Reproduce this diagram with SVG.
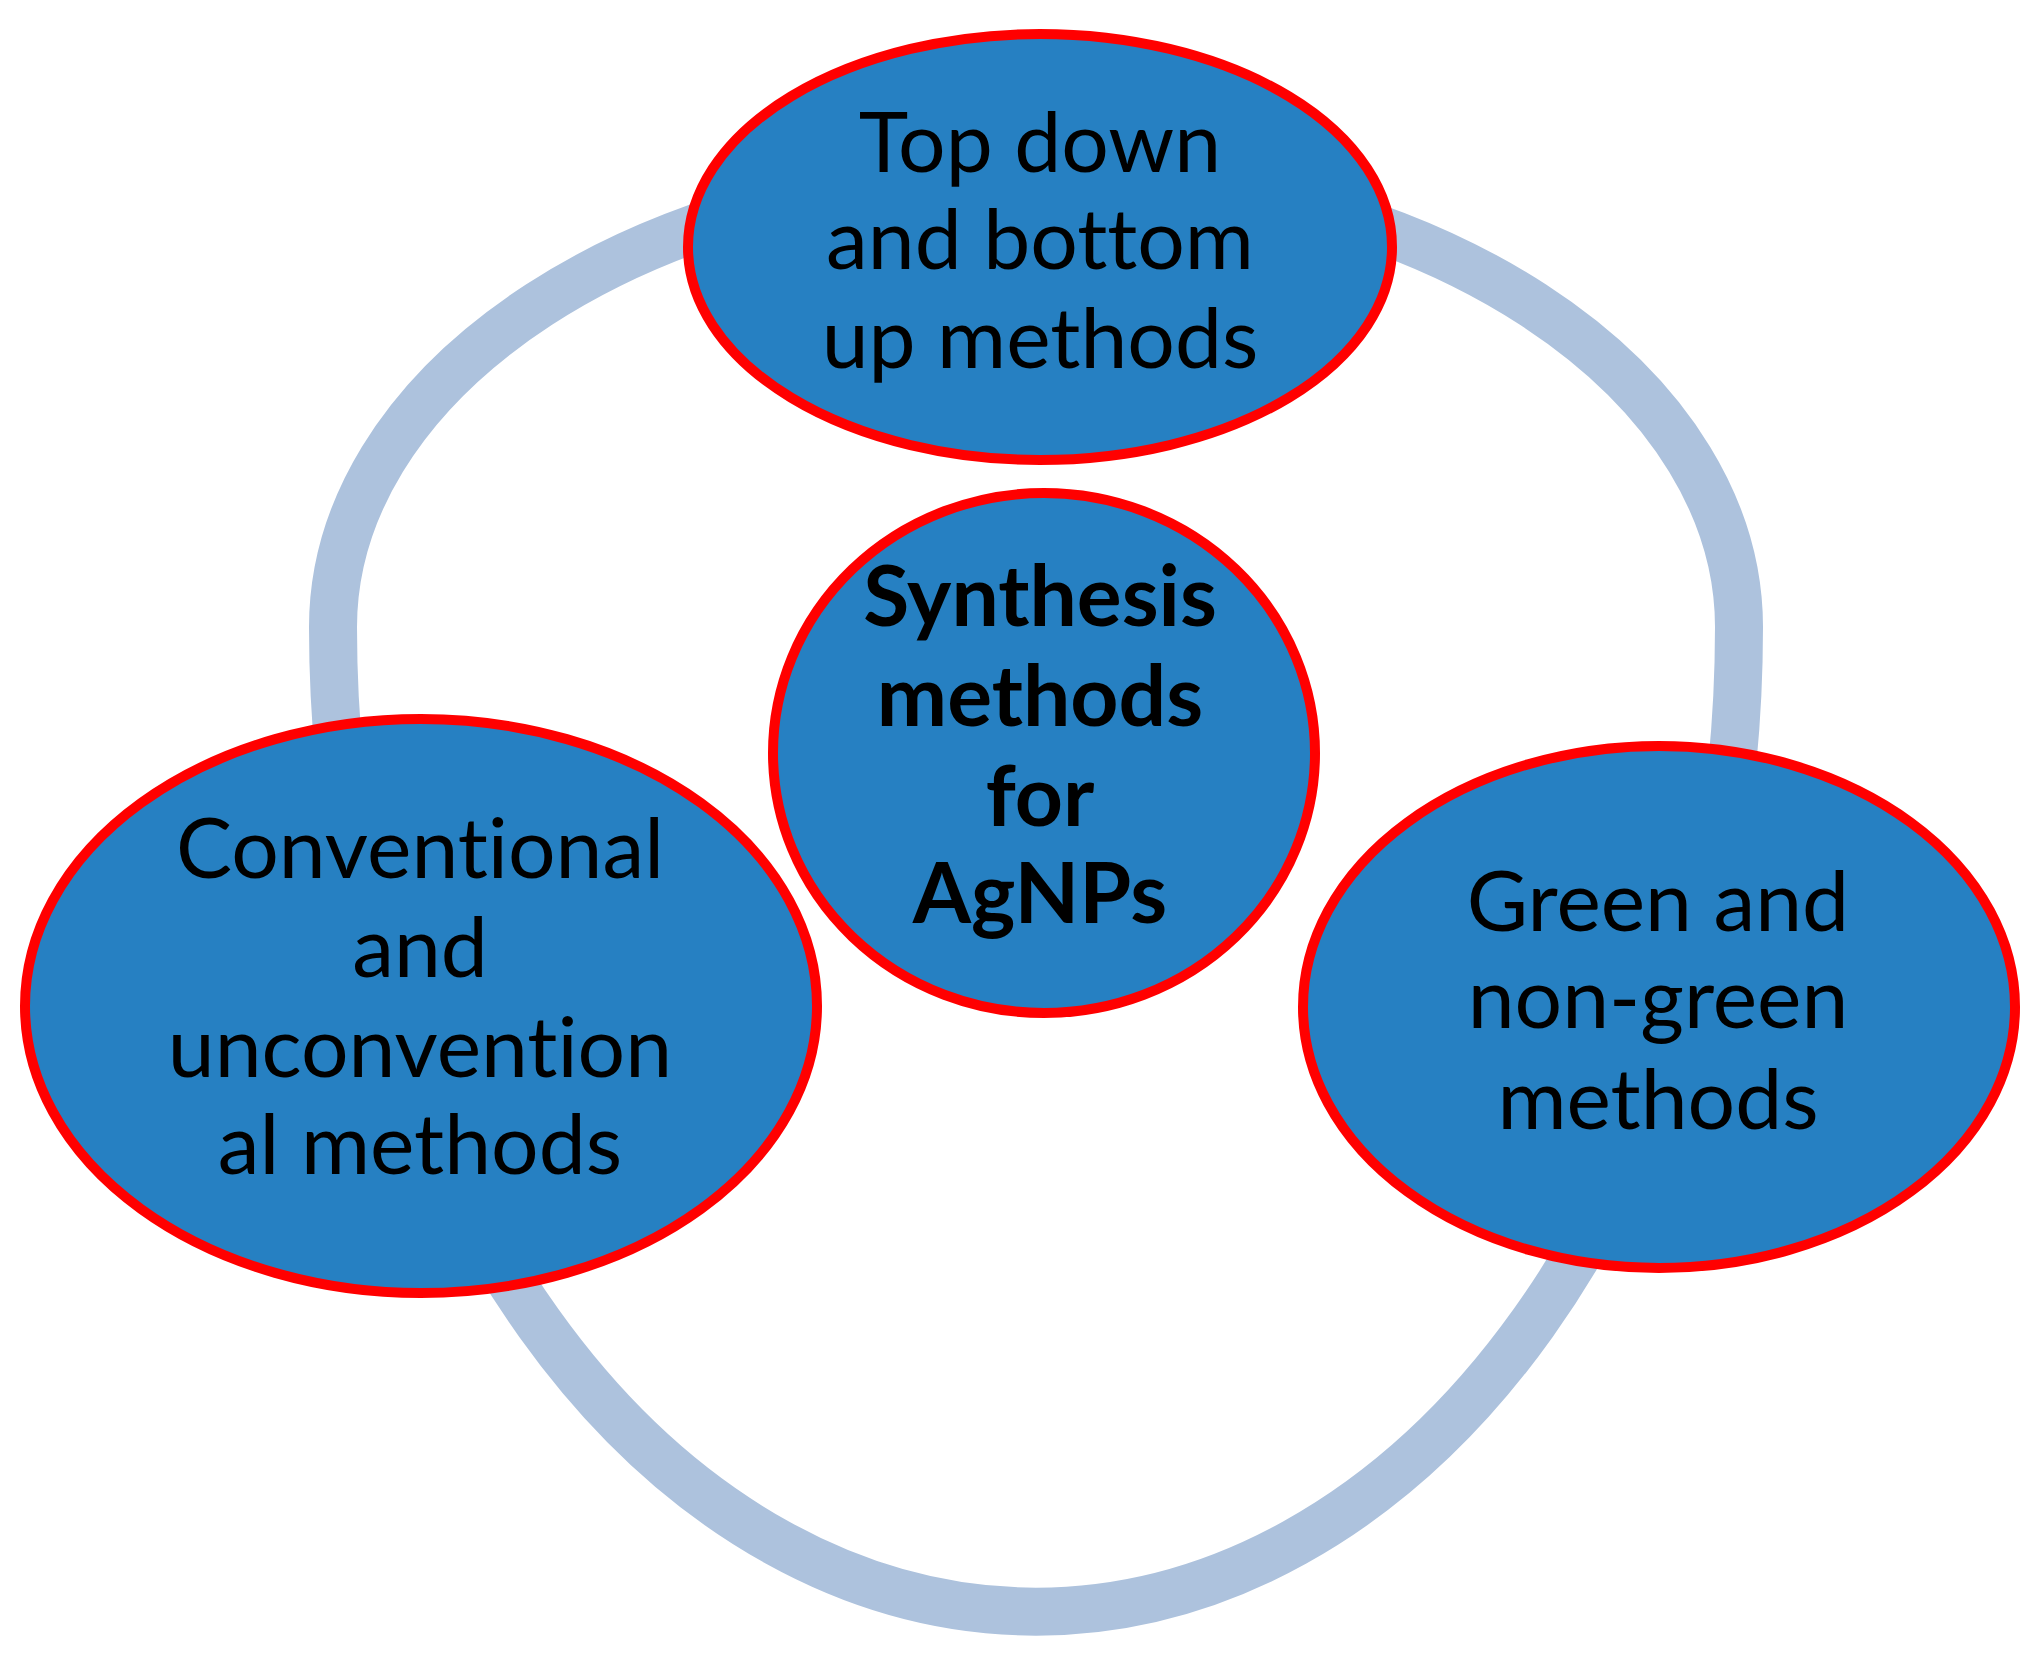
<svg xmlns="http://www.w3.org/2000/svg" width="2036" height="1658" viewBox="0 0 2036 1658">
<style>
.node{fill:#2680C2;stroke:#FF0000;stroke-width:10}
.lbl{font-family:Lato,"Open Sans","Liberation Sans",sans-serif;font-size:84px;fill:#000;text-anchor:middle;font-variant-ligatures:none;font-feature-settings:"liga" 0}
.b{font-weight:bold}
.ring{fill:none;stroke:#ADC2DD;stroke-width:48}
</style>
<rect width="2036" height="1658" fill="#fff"/>
<g id="connectors">
<path class="ring" d="M 333 627 A 703 456 0 0 1 1739 627 A 703 985 0 0 1 333 627 Z"/>
</g>
<g id="node-top">
<ellipse class="node" cx="1040" cy="247" rx="352" ry="213"/>
<text class="lbl" x="1040" y="172">Top down</text>
<text class="lbl" x="1040" y="269">and bottom</text>
<text class="lbl" x="1040" y="368">up methods</text>
</g>
<g id="node-center">
<ellipse class="node" cx="1044" cy="753" rx="271" ry="260"/>
<text class="lbl b" x="1040" y="626">Synthesis</text>
<text class="lbl b" x="1040" y="726">methods</text>
<text class="lbl b" x="1040" y="826">for</text>
<text class="lbl b" x="1040" y="923">AgNPs</text>
</g>
<g id="node-left">
<ellipse class="node" cx="421" cy="1006" rx="396" ry="287"/>
<text class="lbl" x="420" y="878">Conventional</text>
<text class="lbl" x="420" y="977">and</text>
<text class="lbl" x="420" y="1077">unconvention</text>
<text class="lbl" x="420" y="1174">al methods</text>
</g>
<g id="node-right">
<ellipse class="node" cx="1659" cy="1007" rx="356" ry="261"/>
<text class="lbl" x="1658" y="931">Green and</text>
<text class="lbl" x="1658" y="1028">non-green</text>
<text class="lbl" x="1658" y="1129">methods</text>
</g>
</svg>
